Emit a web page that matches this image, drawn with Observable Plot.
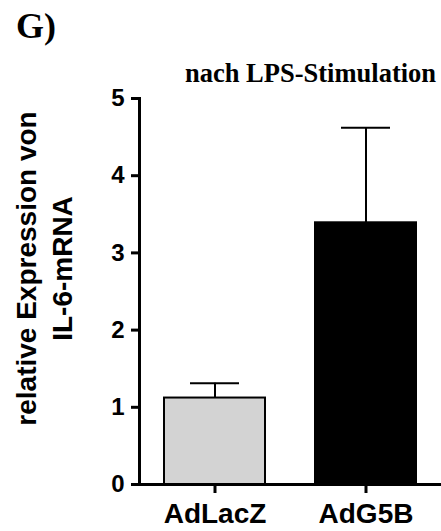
<!DOCTYPE html>
<html>
<head>
<meta charset="utf-8">
<script src="https://cdn.jsdelivr.net/npm/d3@7"></script>
<script src="https://cdn.jsdelivr.net/npm/@observablehq/plot@0.6"></script>
<style>
  html, body { margin: 0; padding: 0; background: #fff; }
  #wrap { position: relative; width: 441px; height: 531px; overflow: hidden; }
  #panel { position: absolute; left: 16px; top: 8px; font-family: "Liberation Serif", "Times New Roman", serif; font-weight: bold; font-size: 36px; line-height: 1; }
  #title { position: absolute; left: 185px; top: 60px; font-family: "Liberation Serif", "Times New Roman", serif; font-weight: bold; font-size: 26.5px; line-height: 1; white-space: nowrap; }
  #chart { position: absolute; left: 0; top: 0; }
</style>
</head>
<body>
<div id="wrap">
  <div id="chart"></div>
  <div id="panel">G)</div>
  <div id="title">nach LPS-Stimulation</div>
</div>
<script>
const groups = ["AdLacZ", "AdG5B"];
const means = [1.12, 3.39];
const errors = [0.19, 1.23];
const fills = ["#d3d3d3", "#000000"];
const yTicks = [0, 1, 2, 3, 4, 5];
const yLabel = "relative Expression von\nIL-6-mRNA";

const data = groups.map((g, i) => ({group: g, mean: means[i], upper: means[i] + errors[i], fill: fills[i]}));

const font = "Liberation Sans, Arial, Helvetica, sans-serif";

const chart = Plot.plot({
  width: 441,
  height: 531,
  marginTop: 98,
  marginBottom: 47,
  marginLeft: 139,
  marginRight: 0,
  style: {fontFamily: font, background: "white", color: "black"},
  x: {domain: groups, paddingInner: 1/3, paddingOuter: 0.165, axis: null},
  y: {domain: [0, 5], axis: null},
  marks: [
    Plot.ruleX(data, {x: "group", y1: "mean", y2: "upper", stroke: "black", strokeWidth: 2}),
    Plot.tickY(data, {x: "group", y: "upper", stroke: "black", strokeWidth: 2, insetLeft: 26, insetRight: 26}),
    Plot.barY(data, {x: "group", y: "mean", fill: "fill", stroke: "black", strokeWidth: 2}),
    Plot.frame({anchor: "left", stroke: "black", strokeWidth: 3}),
    Plot.frame({anchor: "bottom", stroke: "black", strokeWidth: 3}),
    Plot.axisY({ticks: yTicks, tickSize: 8, tickPadding: 7, strokeWidth: 3, fontSize: 24, fontWeight: "bold", label: null, tickFormat: d => String(d)}),
    Plot.axisX({tickSize: 9, tickPadding: 10, strokeWidth: 3, fontSize: 28, fontWeight: "bold", label: null}),
    Plot.text([yLabel], {frameAnchor: "left", textAnchor: "middle", lineAnchor: "middle", rotate: -90, dx: -97, dy: -23, fontSize: 28, fontWeight: "bold", lineHeight: 1.3, fill: "black"})
  ]
});
chart.setAttribute("font-family", font);
document.getElementById("chart").appendChild(chart);
</script>
</body>
</html>
